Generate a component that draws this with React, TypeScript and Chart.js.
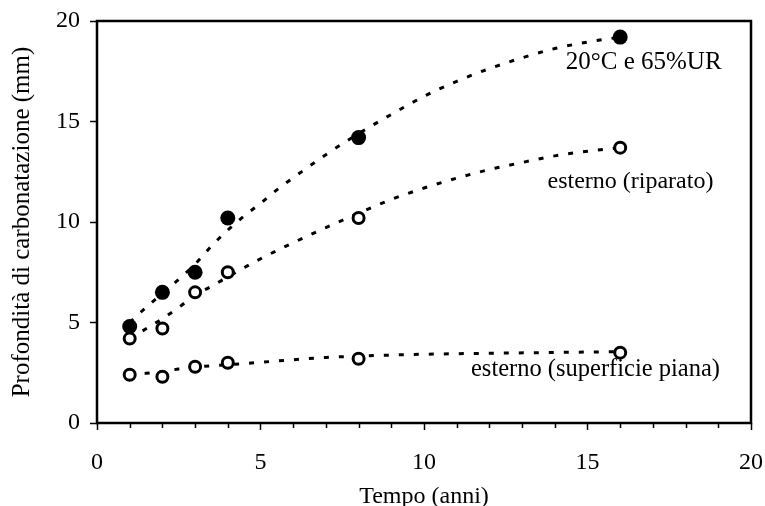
import { useEffect, useRef } from 'react';
import { Chart, registerables } from 'chart.js';

Chart.register(...registerables);

// Measured points (x = years)
const timeYears = [1, 2, 3, 4, 8, 16];
const depthLab = [4.8, 6.5, 7.5, 10.2, 14.2, 19.2]; // 20°C e 65%UR
const depthSheltered = [4.2, 4.7, 6.5, 7.5, 10.2, 13.7]; // esterno (riparato)
const depthFlat = [2.4, 2.3, 2.8, 3.0, 3.2, 3.5]; // esterno (superficie piana)

// Dashed trend curves
const trendLabX = [1, 1.5, 2, 2.5, 3, 3.5, 4, 4.5, 5, 5.5, 6, 7, 8, 9, 10, 11, 12, 13, 14, 15, 16];
const trendLabY = [5.0, 5.75, 6.45, 7.15, 7.9, 8.8, 9.6, 10.3, 10.93, 11.6, 12.2, 13.35, 14.4, 15.35, 16.25, 17.0, 17.63, 18.17, 18.63, 18.95, 19.2];
const trendShelteredX = [1, 1.5, 2, 2.5, 3, 3.5, 4, 5, 6, 7, 8, 9, 10, 11, 12, 13, 14, 15, 16];
const trendShelteredY = [4.2, 4.69, 5.19, 5.75, 6.37, 6.8, 7.27, 8.17, 8.97, 9.72, 10.44, 11.12, 11.69, 12.18, 12.61, 12.96, 13.29, 13.52, 13.7];
const trendFlatX = [1, 1.5, 2, 2.5, 3, 3.5, 4, 5, 6, 7, 8, 9, 10, 12, 14, 16];
const trendFlatY = [2.4, 2.47, 2.55, 2.69, 2.78, 2.85, 2.9, 3.02, 3.15, 3.26, 3.33, 3.38, 3.42, 3.47, 3.51, 3.55];

const xTickValues = [0, 5, 10, 15, 20];
const yTickValues = [0, 5, 10, 15, 20];

const seriesLabels = ['20°C e 65%UR', 'esterno (riparato)', 'esterno (superficie piana)'];

const FONT = '"Liberation Serif", "Times New Roman", serif';

const toPts = (xs: number[], ys: number[]) => xs.map((x, i) => ({ x, y: ys[i] }));

const framePlugin = {
  id: 'frameAndLabels',
  afterDraw(chart: any) {
    const { ctx, chartArea, scales } = chart;
    const xs = scales.x;
    const ys = scales.y;
    ctx.save();
    // minor ticks on x axis
    ctx.strokeStyle = '#000';
    ctx.lineWidth = 1.5;
    for (let v = 0; v <= 20; v++) {
      if (v % 5 === 0) continue;
      const px = Math.round(xs.getPixelForValue(v)) + 0.5;
      ctx.beginPath();
      ctx.moveTo(px, chartArea.bottom);
      ctx.lineTo(px, chartArea.bottom + 5);
      ctx.stroke();
    }
    // frame
    ctx.lineWidth = 2.5;
    ctx.strokeRect(chartArea.left, chartArea.top, chartArea.right - chartArea.left, chartArea.bottom - chartArea.top);
    // series labels
    ctx.fillStyle = '#000';
    ctx.textAlign = 'right';
    ctx.textBaseline = 'alphabetic';
    const anchors = [
      { x: 19.1, y: 17.6, size: 25 },
      { x: 18.85, y: 11.7, size: 24 },
      { x: 19.05, y: 2.32, size: 24.5 },
    ];
    seriesLabels.forEach((t, i) => {
      ctx.font = `${anchors[i].size}px ${FONT}`;
      ctx.fillText(t, xs.getPixelForValue(anchors[i].x), ys.getPixelForValue(anchors[i].y));
    });
    ctx.restore();
  },
};

export default function App() {
  const ref = useRef<HTMLCanvasElement | null>(null);

  useEffect(() => {
    document.body.style.margin = '0';
    const canvas = ref.current;
    if (!canvas) return;

    const trendStyle = {
      showLine: true,
      borderColor: '#000',
      borderWidth: 3,
      borderDash: [5, 10],
      pointRadius: 0,
      pointHoverRadius: 0,
      tension: 0.4,
      cubicInterpolationMode: 'monotone' as const,
      fill: false,
    };

    const chart = new Chart(canvas, {
      type: 'scatter',
      data: {
        datasets: [
          { label: seriesLabels[0], data: toPts(timeYears, depthLab), showLine: false, pointRadius: 7.5, pointBackgroundColor: '#000', pointBorderColor: '#000', pointBorderWidth: 0, order: 1 },
          { label: seriesLabels[1], data: toPts(timeYears, depthSheltered), showLine: false, pointRadius: 5.5, pointBackgroundColor: '#fff', pointBorderColor: '#000', pointBorderWidth: 3, order: 1 },
          { label: seriesLabels[2], data: toPts(timeYears, depthFlat), showLine: false, pointRadius: 5.5, pointBackgroundColor: '#fff', pointBorderColor: '#000', pointBorderWidth: 3, order: 1 },
          { label: 'trend1', data: toPts(trendLabX, trendLabY), ...trendStyle, order: 2 },
          { label: 'trend2', data: toPts(trendShelteredX, trendShelteredY), ...trendStyle, order: 2 },
          { label: 'trend3', data: toPts(trendFlatX, trendFlatY), ...trendStyle, order: 2 },
        ] as any,
      },
      options: {
        responsive: false,
        animation: false,
        devicePixelRatio: 1,
        layout: { padding: { left: 0, top: 21, right: 14, bottom: 0 } },
        plugins: {
          legend: { display: false },
          tooltip: { enabled: false },
        },
        scales: {
          x: {
            type: 'linear',
            min: 0,
            max: 20,
            afterBuildTicks: (s: any) => { s.ticks = xTickValues.map((v) => ({ value: v })); },
            afterFit: (s: any) => { s.height = 83; s.paddingLeft = 0; s.paddingRight = 0; },
            ticks: { color: '#000', font: { family: FONT, size: 24 }, padding: 18, maxRotation: 0 },
            grid: { display: true, drawOnChartArea: false, drawTicks: true, tickLength: 7, tickColor: '#000', tickWidth: 1.5 },
            border: { display: false },
            title: { display: true, text: 'Tempo (anni)', color: '#000', font: { family: FONT, size: 24, lineHeight: 0.8 }, padding: { top: 0, bottom: 0 } },
          },
          y: {
            type: 'linear',
            min: 0,
            max: 20,
            afterBuildTicks: (s: any) => { s.ticks = yTickValues.map((v) => ({ value: v })); },
            afterFit: (s: any) => { s.width = 97; s.paddingTop = 0; s.paddingBottom = 0; },
            ticks: { color: '#000', font: { family: FONT, size: 24 }, padding: 10 },
            grid: { display: true, drawOnChartArea: false, drawTicks: true, tickLength: 7, tickColor: '#000', tickWidth: 1.5 },
            border: { display: false },
            title: { display: true, text: 'Profondità di carbonatazione (mm)', color: '#000', font: { family: FONT, size: 25, lineHeight: 1 }, padding: { top: 10, bottom: 0 } },
          },
        },
      } as any,
      plugins: [framePlugin],
    });

    return () => chart.destroy();
  }, []);

  return (
    <div style={{ width: 765, height: 506 }}>
      <canvas ref={ref} width={765} height={506} style={{ display: 'block', width: 765, height: 506 }} />
    </div>
  );
}
